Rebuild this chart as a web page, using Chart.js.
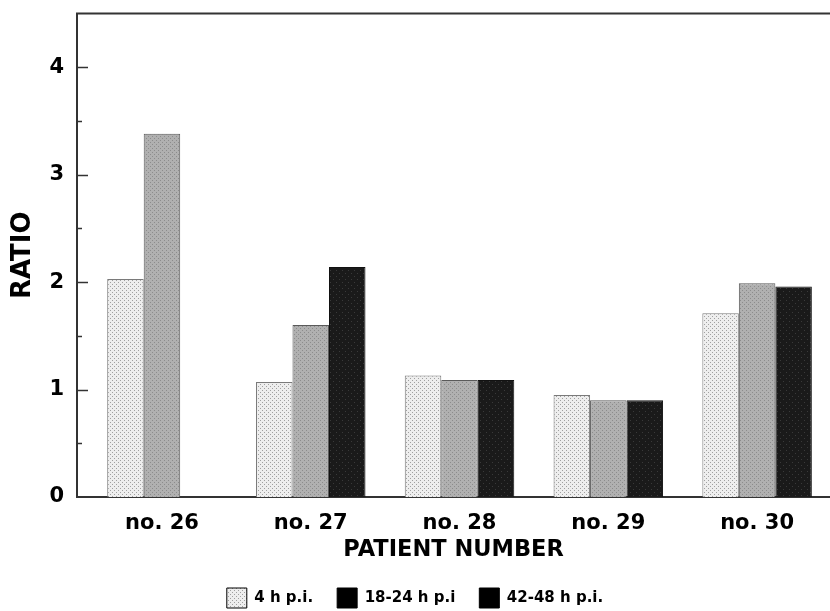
<!DOCTYPE html>
<html>
<head>
<meta charset="utf-8">
<script src="https://cdn.jsdelivr.net/npm/chart.js@4.4.1/dist/chart.umd.min.js"></script>
<style>
  html, body { margin: 0; padding: 0; background: #fff; overflow: hidden; }
  #wrap { width: 830px; height: 611px; }
</style>
</head>
<body>
<div id="wrap"><canvas id="chart"></canvas></div>
<script>
// patients on the x axis
const patients = ['no. 26', 'no. 27', 'no. 28', 'no. 29', 'no. 30'];
// ratio per time point
const ratio4h = [2.03, 1.07, 1.13, 0.95, 1.71];
const ratio18to24h = [3.38, 1.60, 1.09, 0.90, 1.99];
const ratio42to48h = [null, 2.14, 1.09, 0.90, 1.96];
const seriesNames = ['4 h p.i.', '18-24 h p.i', '42-48 h p.i.'];
const yTicks = [0, 1, 2, 3, 4];

// little stippled fills, like the halftone in the scan
function stipple(base, dot, step) {
  const c = document.createElement('canvas');
  c.width = step * 2; c.height = step * 2;
  const g = c.getContext('2d');
  g.fillStyle = base;
  g.fillRect(0, 0, c.width, c.height);
  g.fillStyle = dot;
  g.fillRect(0, 0, 1, 1);
  g.fillRect(step, step, 1, 1);
  return g.createPattern(c, 'repeat');
}
const ctx = document.getElementById('chart').getContext('2d');
const fillLight = stipple('#eeeeee', '#a0a0a0', 2);
const fillMid = stipple('#b0b0b0', '#8c8c8c', 2);
const fillDark = stipple('#1a1a1a', '#3a3a3a', 3);

const toPoints = arr => arr.map((v, i) => ({ x: i, y: v }));

// inward y ticks + top frame line
const frame = {
  id: 'frame',
  afterDraw(chart) {
    const { ctx, chartArea: a, scales } = chart;
    const y = scales.y;
    ctx.save();
    ctx.strokeStyle = '#333';
    ctx.lineWidth = 1.5;
    for (let v = 0.5; v < 4.5; v += 0.5) {
      const py = Math.round(y.getPixelForValue(v)) + 0.5;
      const len = Number.isInteger(v) ? 11 : 5;
      ctx.beginPath();
      ctx.moveTo(a.left, py);
      ctx.lineTo(a.left + len, py);
      ctx.stroke();
    }
    ctx.lineWidth = 2;
    ctx.beginPath();
    ctx.moveTo(a.left - 1, a.top);
    ctx.lineTo(a.right, a.top);
    ctx.stroke();
    ctx.restore();
  }
};

new Chart(ctx, {
  type: 'bar',
  data: {
    datasets: [
      { label: seriesNames[0], data: toPoints(ratio4h), backgroundColor: fillLight, borderColor: '#7a7a7a', borderWidth: 1 },
      { label: seriesNames[1], data: toPoints(ratio18to24h), backgroundColor: fillMid, borderColor: '#5a5a5a', borderWidth: 1 },
      { label: seriesNames[2], data: toPoints(ratio42to48h), backgroundColor: fillDark, borderColor: '#111', borderWidth: 1 }
    ]
  },
  options: {
    responsive: true,
    maintainAspectRatio: false,
    animation: false,
    datasets: { bar: { categoryPercentage: 0.736, barPercentage: 1 } },
    layout: { padding: { top: 13, left: 0, right: 0, bottom: -7 } },
    scales: {
      x: {
        type: 'linear',
        offset: false,
        min: -0.571,
        max: 4.49,
        afterBuildTicks: s => { s.ticks = patients.map((_, i) => ({ value: i })); },
        afterFit: s => { s.height = 67; },
        grid: { display: false, drawTicks: false, offset: false },
        border: { display: true, color: '#333', width: 2 },
        ticks: {
          padding: 14,
          color: '#000',
          font: { family: 'DejaVu Sans', size: 21, weight: 'bold' },
          callback: v => patients[v]
        },
        title: {
          display: true,
          text: 'PATIENT NUMBER',
          color: '#000',
          font: { family: 'DejaVu Sans', size: 22.5, weight: 'bold' },
          padding: { top: 0, bottom: 0 }
        }
      },
      y: {
        min: 0,
        max: 4.5,
        afterBuildTicks: s => { s.ticks = yTicks.map(v => ({ value: v })); },
        afterFit: s => { s.width = 77; },
        grid: { display: false, drawTicks: false },
        border: { display: true, color: '#333', width: 2 },
        ticks: {
          padding: 13,
          color: '#000',
          font: { family: 'DejaVu Sans', size: 21, weight: 'bold', lineHeight: 0.05 }
        },
        title: {
          display: true,
          text: 'RATIO',
          color: '#000',
          font: { family: 'DejaVu Sans', size: 26, weight: 'bold' },
          padding: { top: 8, bottom: 0 }
        }
      }
    },
    plugins: {
      tooltip: { enabled: false },
      legend: {
        position: 'bottom',
        labels: {
          color: '#000',
          boxWidth: 20,
          boxHeight: 20,
          padding: 24,
          font: { family: 'DejaVu Sans', size: 15, weight: 'bold' },
          generateLabels: chart => seriesNames.map((name, i) => ({
            text: name,
            fillStyle: i === 0 ? fillLight : '#000',
            strokeStyle: '#000',
            lineWidth: 1,
            datasetIndex: i
          }))
        }
      }
    }
  },
  plugins: [frame]
});
</script>
</body>
</html>
